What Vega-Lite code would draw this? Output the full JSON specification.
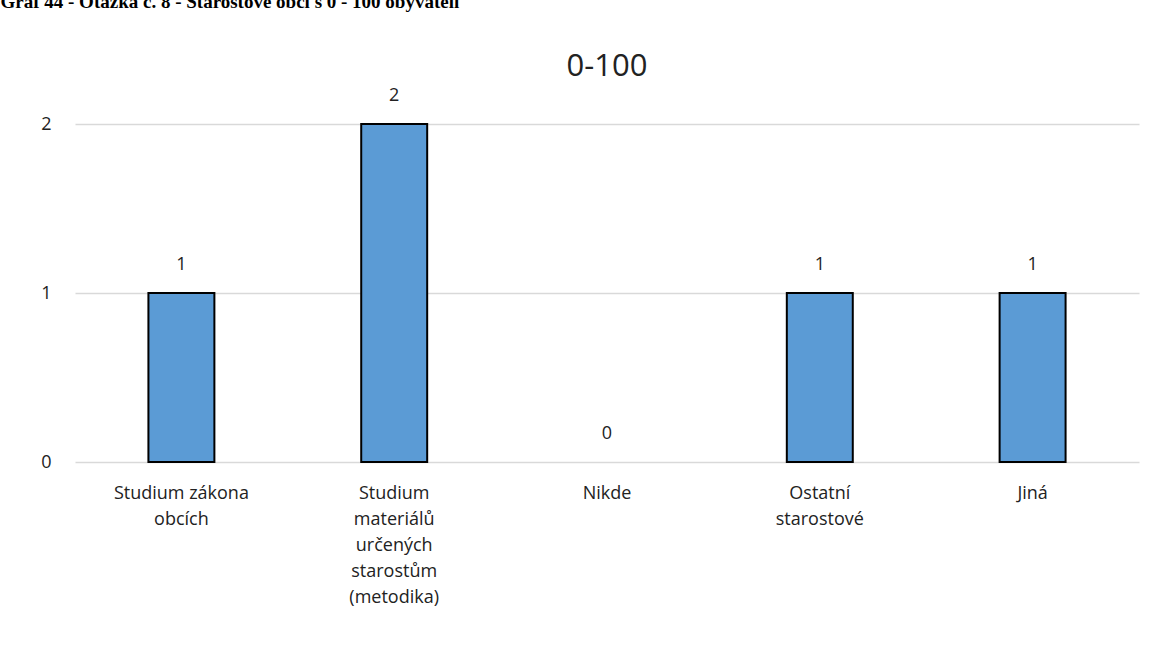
{
  "$schema": "https://vega.github.io/schema/vega-lite/v6.json",
  "autosize": "none",
  "width": 1064,
  "height": 338,
  "padding": {"left": 75, "top": 124, "right": 28, "bottom": 194},
  "background": "white",
  "config": {"view": {"stroke": null}, "font": "Open Sans"},
  "title": {
    "text": "0-100",
    "anchor": "middle",
    "frame": "group",
    "fontSize": 31,
    "fontWeight": "normal",
    "font": "Open Sans",
    "color": "#222222",
    "offset": -91
  },
  "data": {
    "values": [
      {"kategorie": "Studium zákona|obcích", "pocet": 1},
      {"kategorie": "Studium|materiálů|určených|starostům|(metodika)", "pocet": 2},
      {"kategorie": "Nikde", "pocet": 0},
      {"kategorie": "Ostatní|starostové", "pocet": 1},
      {"kategorie": "Jiná", "pocet": 1}
    ]
  },
  "encoding": {
    "x": {
      "field": "kategorie",
      "type": "nominal",
      "sort": null,
      "scale": {"paddingInner": 0.69, "paddingOuter": 0.345},
      "axis": {
        "title": null,
        "labelAngle": 0,
        "labelExpr": "split(datum.label, '|')",
        "labelFontSize": 18,
        "labelColor": "#222222",
        "labelFont": "Open Sans",
        "labelLineHeight": 26,
        "labelPadding": 22,
        "labelBaseline": "top",
        "ticks": false,
        "domain": false,
        "labelLimit": 300
      }
    },
    "y": {
      "field": "pocet",
      "type": "quantitative",
      "scale": {"domain": [0, 2], "nice": false},
      "axis": {
        "title": "Graf 44 - Otázka č. 8 - Starostové obcí s 0 - 100 obyvateli",
        "titleAngle": 0,
        "titleX": -75,
        "titleY": -117,
        "titleAlign": "left",
        "titleBaseline": "alphabetic",
        "titleFont": "Liberation Serif",
        "titleFontSize": 19,
        "titleFontWeight": "bold",
        "titleColor": "#000000",
        "tickCount": 2,
        "labelOverlap": false,
        "format": "d",
        "labelFontSize": 18,
        "labelColor": "#222222",
        "labelFont": "Open Sans",
        "labelPadding": 24,
        "ticks": false,
        "domain": false,
        "grid": true,
        "gridColor": "#d9d9d9",
        "gridWidth": 1.5
      }
    }
  },
  "layer": [
    {
      "mark": {"type": "bar", "color": "#5b9bd5", "stroke": "#000000"},
      "encoding": {
        "strokeWidth": {"condition": {"test": "datum.pocet === 0", "value": 0}, "value": 2}
      }
    },
    {
      "mark": {"type": "text", "dy": -28, "fontSize": 18, "color": "#222222", "font": "Open Sans"},
      "encoding": {"text": {"field": "pocet", "type": "quantitative"}}
    }
  ]
}
